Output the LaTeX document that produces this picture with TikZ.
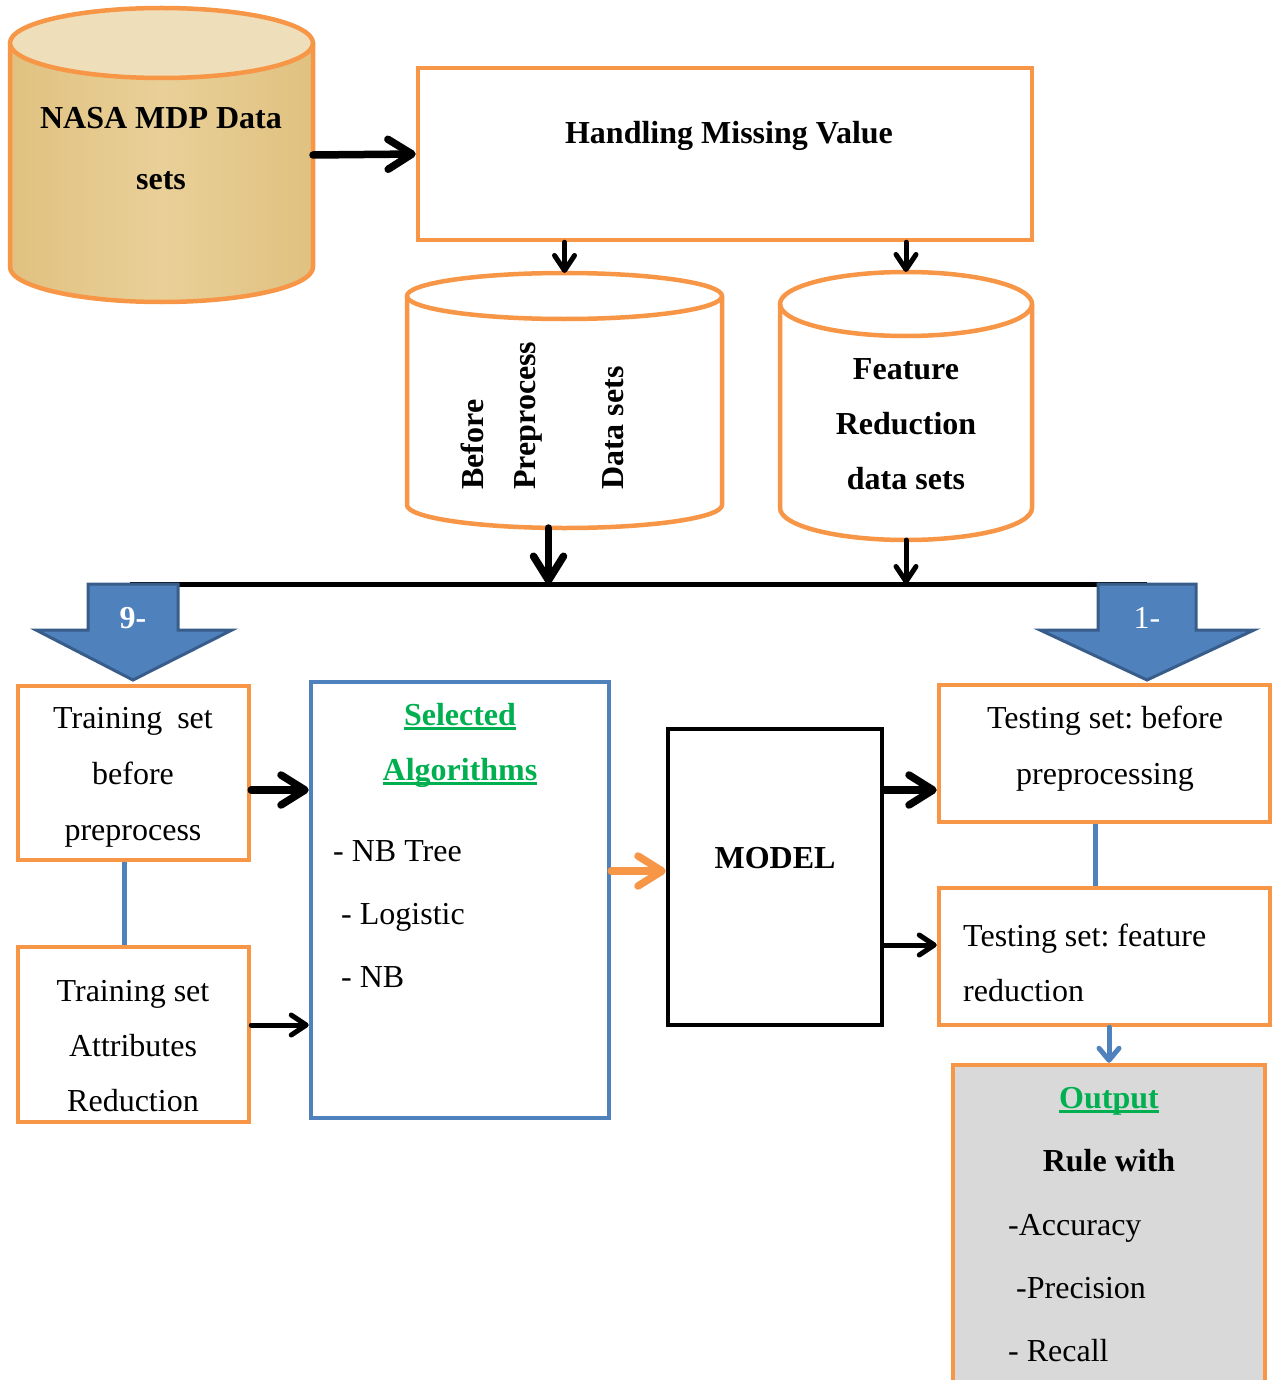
\documentclass[tikz,border=0pt]{standalone}
\usepackage{fontspec}
\setmainfont{Liberation Serif}
\usetikzlibrary{arrows.meta,calc}
\frenchspacing

\definecolor{boxorange}{RGB}{247,150,70}
\definecolor{boxblue}{RGB}{79,129,189}
\definecolor{blockblue}{RGB}{79,129,189}
\definecolor{blockedge}{RGB}{56,93,138}
\definecolor{titlegreen}{RGB}{0,176,80}
\definecolor{papyrus}{RGB}{224,193,128}
\definecolor{papyruslight}{RGB}{233,208,152}
\definecolor{papyrustop}{RGB}{238,222,186}
\definecolor{outgray}{RGB}{217,217,217}

% thick underline for the green headings
\newcommand\headul[1]{\setbox0=\hbox{#1}\rlap{\rule[-5pt]{\wd0}{3pt}}\box0}

% drum (cylinder) body: left x, right x, top-ellipse y, bottom-ellipse y, y radius, fill options
\newcommand\drum[6]{%
  \pgfmathsetmacro\drx{(#2-#1)/2}%
  \fill[#6]
    (#1,#3) -- (#1,#4) arc[start angle=180, end angle=0, x radius=\drx, y radius=#5] -- (#2,#3) -- cycle;
  \draw[draw=boxorange, line width=4.5, line join=round]
    (#1,#3) -- (#1,#4) arc[start angle=180, end angle=0, x radius=\drx, y radius=#5] -- (#2,#3);
}

\begin{document}
\begin{tikzpicture}[x=1pt, y=-1pt,
  orangebox/.style={draw=boxorange, line width=4.5, fill=white, inner sep=0},
  bluebox/.style={draw=boxblue, line width=4.5, fill=white, inner sep=0},
  blackbox/.style={draw=black, line width=4.5, fill=white, inner sep=0},
  ghost/.style={inner sep=0, outer sep=0},
  txt/.style={font=\fontsize{32}{38}\selectfont, inner sep=0, anchor=base},
  txtl/.style={txt, anchor=base west},
  btxt/.style={font=\fontsize{32}{38}\selectfont\bfseries, inner sep=0, anchor=base},
  bigarrow/.style={line width=7.5, line cap=round, -{Straight Barb[length=24, width=30, round]}},
  smallarrow/.style={line width=5, line cap=round, -{Straight Barb[length=15, width=20, round]}},
  blockarrow/.style={fill=blockblue, draw=blockedge, line width=3, line join=miter},
]
\useasboundingbox (0,0) rectangle (1272,1380);

% ---------- source data drum ----------
\drum{10}{313}{43}{267}{35}{left color=papyrus, right color=papyrus, middle color=papyruslight}
\filldraw[fill=papyrustop, draw=boxorange, line width=4.5] (161.5,43) ellipse [x radius=151.5, y radius=35];
\node[ghost, minimum width=303, minimum height=294] (nasa) at (161.5,155) {};
\node[btxt] (nasaA) at (161,129) {NASA MDP Data};
\node[btxt] (nasaB) at (161,190) {sets};

% ---------- missing value step ----------
\node[orangebox, minimum width=614, minimum height=172] (hmv) at (725,154) {};
\node[btxt] (hmvT) at (729,144) {Handling Missing Value};

\draw[bigarrow] (nasa.east) -- (hmv.west);

% ---------- the two derived data drums ----------
\drum{407}{722}{296}{505}{23}{white}
\draw[draw=boxorange, line width=4.5] (564.5,296) ellipse [x radius=157.5, y radius=23];
\node[ghost, minimum width=315, minimum height=255] (bp) at (564.5,400.5) {};
\node[btxt, rotate=90, anchor=west] (bpA) at (472,490) {Before};
\node[btxt, rotate=90, anchor=west] (bpB) at (528,490) {Preprocess};
\node[btxt, rotate=90, anchor=west] (bpC) at (613,490) {Data sets};

\drum{780}{1032}{304}{508}{32}{white}
\draw[draw=boxorange, line width=4.5] (906,304) ellipse [x radius=126, y radius=32];
\node[ghost, minimum width=252, minimum height=268] (fr) at (906,406) {};
\node[btxt] (frA) at (906,379) {Feature};
\node[btxt] (frB) at (906,434) {Reduction};
\node[btxt] (frC) at (906,489) {data sets};

\draw[smallarrow] (bp.north |- hmv.south) -- (bp.north);
\draw[smallarrow] (fr.north |- hmv.south) -- (fr.north);

% ---------- distribution bar ----------
\coordinate (busL) at (130,584);
\coordinate (busR) at (1147,584);
\draw[line width=5] (busL) -- (busR);
\coordinate (bpOut) at ($(bp.south)+(-16,0)$);
\draw[bigarrow] (bpOut) -- (bpOut |- busL);
\draw[smallarrow] (fr.south) -- (fr.south |- busL);

% ---------- split block arrows ----------
\draw[blockarrow] (88,584) -- (178,584) -- (178,630) -- (232,630) -- (133,680) -- (36,630) -- (88,630) -- cycle;
\node[btxt, text=white] (splitL) at (133,628) {9-};
\draw[blockarrow] (1098,584) -- (1196,584) -- (1196,630) -- (1254,630) -- (1147,680) -- (1040,630) -- (1098,630) -- cycle;
\node[txt, text=white] (splitR) at (1147,628) {1-};

% ---------- training sets ----------
\node[orangebox, minimum width=231, minimum height=174] (tr1) at (133.5,773) {};
\node[txt] (tr1A) at (133,728) {Training\hspace{15pt}set};
\node[txt] (tr1B) at (133,784) {before};
\node[txt] (tr1C) at (133,840) {preprocess};

\node[orangebox, minimum width=231, minimum height=175] (tr2) at (133.5,1034.5) {};
\node[txt] (tr2A) at (133,1001) {Training set};
\node[txt] (tr2B) at (133,1056) {Attributes};
\node[txt] (tr2C) at (133,1111) {Reduction};

\coordinate (trLink) at ($(tr1.south)+(-9.5,0)$);
\draw[boxblue, line width=5] (trLink) -- (trLink |- tr2.north);

% ---------- algorithms ----------
\node[bluebox, minimum width=298, minimum height=436] (alg) at (460,900) {};
\node[btxt, text=titlegreen] (algA) at (460,725) {\headul{Selected}};
\node[btxt, text=titlegreen] (algB) at (460,780) {\headul{Algorithms}};
\node[txtl] (algC) at (333,861) {- NB Tree};
\node[txtl] (algD) at (341,924) {- Logistic};
\node[txtl] (algE) at (341,987) {- NB};

\coordinate (tr1Out) at ($(tr1.east)+(0,17)$);
\draw[bigarrow] (tr1Out) -- (tr1Out -| alg.west);
\coordinate (tr2Out) at ($(tr2.east)+(0,-9.5)$);
\draw[smallarrow] (tr2Out) -- (tr2Out -| alg.west);

% ---------- model ----------
\node[blackbox, minimum width=214, minimum height=296] (model) at (775,877) {};
\node[btxt] (modelT) at (775,868) {MODEL};

\coordinate (algOut) at ($(alg.east)+(0,-29)$);
\draw[bigarrow, boxorange] (algOut) -- (algOut -| model.west);

% ---------- testing sets ----------
\node[orangebox, minimum width=331, minimum height=137] (te1) at (1104.5,753.5) {};
\node[txt] (te1A) at (1105,728) {Testing set: before};
\node[txt] (te1B) at (1105,784) {preprocessing};

\node[orangebox, minimum width=331, minimum height=137] (te2) at (1104.5,956.5) {};
\node[txtl] (te2A) at (963,946) {Testing set: feature};
\node[txtl] (te2B) at (963,1001) {reduction};

\coordinate (mOut1) at ($(model.east)+(0,-87)$);
\draw[bigarrow] (mOut1) -- (mOut1 -| te1.west);
\coordinate (mOut2) at ($(model.east)+(0,68)$);
\draw[smallarrow] (mOut2) -- (mOut2 -| te2.west);

\coordinate (teLink) at ($(te1.south)+(-9.5,0)$);
\draw[boxblue, line width=5] (teLink) -- (teLink |- te2.north);

% ---------- output ----------
\node[orangebox, fill=outgray, minimum width=312, minimum height=330] (out) at (1109,1230) {};
\node[btxt, text=titlegreen] (outA) at (1109,1108) {\headul{Output}};
\node[btxt] (outB) at (1109,1171) {Rule with};
\node[txtl] (outC) at (1008,1235) {-Accuracy};
\node[txtl] (outD) at (1016,1298) {-Precision};
\node[txtl] (outE) at (1008,1361) {- Recall};

\draw[boxblue, line width=5, line cap=round, -{Straight Barb[length=12, width=20, round]}] (out.north |- te2.south) -- (out.north);
\end{tikzpicture}
\end{document}
